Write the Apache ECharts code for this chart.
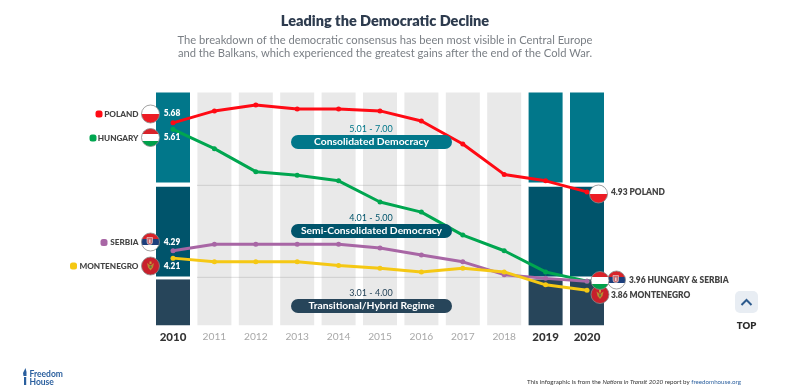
<!DOCTYPE html>
<html><head><meta charset="utf-8">
<style>html,body{margin:0;padding:0;background:#fff}#c{width:800px;height:389px}</style>
<script src="https://cdn.jsdelivr.net/npm/echarts@6/dist/echarts.min.js"></script>
</head><body><div id="c"></div>
<script>
const years = ['2010','2011','2012','2013','2014','2015','2016','2017','2018','2019','2020'];
const boldYears = ['2010','2019','2020'];
const poland = [5.68,5.81,5.875,5.83,5.83,5.81,5.70,5.45,5.12,5.05,4.93];
const hungary = [5.61,5.40,5.15,5.11,5.05,4.82,4.71,4.46,4.29,4.06,3.96];
const serbia = [4.29,4.36,4.36,4.36,4.36,4.32,4.245,4.17,4.03,3.99,3.96];
const montenegro = [4.21,4.17,4.17,4.17,4.13,4.10,4.06,4.10,4.06,3.92,3.86];
// stacked band segments (highlighted years) and plain grey columns
const hybridBand = [3.98,null,null,null,null,null,null,null,null,3.98,3.98];
const gapLow =     [0.03,null,null,null,null,null,null,null,null,0.03,0.03];
const semiBand =   [0.978,null,null,null,null,null,null,null,null,0.978,0.978];
const gapHigh =    [0.043,null,null,null,null,null,null,null,null,0.043,0.043];
const consBand =   [0.98,null,null,null,null,null,null,null,null,0.98,0.98];
const greyCols =   [null,6.01,6.01,6.01,6.01,6.01,6.01,6.01,6.01,null,null];
const bandEdges = [5, 4];

const FONT = 'Lato, "Open Sans", sans-serif';
const C = {pl:'#ff0a14', hu:'#00a650', rs:'#a866a5', me:'#f5c814', teal:'#01778a', semi:'#00546b', navy:'#27455a', ink:'#444'};

function bar(name,data,color){
  return {name,type:'bar',stack:'b',data,barWidth:34,itemStyle:{color},silent:true,z:1};
}
function line(name,data,color,z){
  return {name,type:'line',data,z,symbol:'circle',symbolSize:5,showSymbol:true,
    lineStyle:{color,width:3},itemStyle:{color},silent:true,animation:false};
}
function txt(x,y,text,o){
  return {type:'text',x,y,z:o.z||50,style:Object.assign({text,fill:C.ink,align:'left',verticalAlign:'middle',
    font:'700 8px '+FONT},o.s||{})};
}
function stripes(cols){
  const stops=[];cols.forEach((c,i)=>{stops.push({offset:i/cols.length,color:c},{offset:(i+1)/cols.length,color:c});});
  return {type:'linear',x:0,y:0,x2:0,y2:1,colorStops:stops};
}
function flag(cx,cy,kind){
  const r=9, out=[], z=40+flag.n++;
  const fills={pl:stripes(['#fff','#ed1c24']),hu:stripes(['#d8232a','#fff','#00a04a']),
    rs:stripes(['#d8232a','#1c3f7c','#fff']),me:'#c8202c'};
  out.push({type:'circle',z,shape:{cx,cy,r},style:{fill:fills[kind],stroke:'#8a8a8a',lineWidth:0.8}});
  if(kind==='rs'){
    out.push({type:'rect',z,shape:{x:cx-3.5,y:cy-4.5,width:5.5,height:7,r:[0,0,2.5,2.5]},style:{fill:'#c96a6f',stroke:'#e8dcdc',lineWidth:0.6}});
    out.push({type:'rect',z,shape:{x:cx-1.3,y:cy-2.5,width:1.2,height:3.5},style:{fill:'#f3e5e5'}});
  }
  if(kind==='me'){
    out.push({type:'polygon',z,shape:{points:[[cx-3.5,cy-3],[cx,cy-0.5],[cx+3.5,cy-3],[cx+2.5,cy+1.5],[cx,cy+4.5],[cx-2.5,cy+1.5]]},style:{fill:'#b98a32'}});
    out.push({type:'rect',z,shape:{x:cx-1,y:cy-4.5,width:2,height:2.5},style:{fill:'#c79a3a'}});
    out.push({type:'rect',z,shape:{x:cx-1,y:cy-0.3,width:2,height:2.2},style:{fill:'#5f7a3f'}});
  }
  return out;
}
flag.n=0;
function pill(y,range,label,color){
  return [
    {type:'rect',z:30,shape:{x:291,y:y-7,width:161,height:14,r:7},style:{fill:color}},
    txt(371.5,y,label,{z:31,s:{fill:'#fff',align:'center',font:'700 10.3px '+FONT}}),
    txt(371,y-13,range,{z:31,s:{fill:color,align:'center',font:'400 9px '+FONT}})
  ];
}
function legend(yc,dotX,name,color){
  return [
    {type:'rect',z:30,shape:{x:dotX-3.5,y:yc-3.5,width:7,height:7,r:2.5},style:{fill:color}},
    txt(138.5,yc,name,{s:{align:'right',font:'900 8.2px '+FONT}})
  ];
}
const v2=n=>n.toFixed(2);
const valFont='800 8.4px '+FONT;
const graphics = [
  txt(385,21,'Leading the Democratic Decline',{s:{align:'center',fill:'#2d3b4e',font:'800 14.5px '+FONT}}),
  txt(385,40,'The breakdown of the democratic consensus has been most visible in Central Europe',{s:{align:'center',fill:'#7a7f85',font:'400 11.2px '+FONT}}),
  txt(385,53.5,'and the Balkans, which experienced the greatest gains after the end of the Cold War.',{s:{align:'center',fill:'#7a7f85',font:'400 11.2px '+FONT}}),
  ...pill(142,'5.01 - 7.00','Consolidated Democracy',C.teal),
  ...pill(231,'4.01 - 5.00','Semi-Consolidated Democracy',C.semi),
  ...pill(306,'3.01 - 4.00','Transitional/Hybrid Regime',C.navy),
  ...legend(114,99,'POLAND',C.pl),
  ...legend(138,93,'HUNGARY',C.hu),
  ...legend(242.5,104,'SERBIA',C.rs),
  ...legend(266,73.5,'MONTENEGRO',C.me),
  ...flag(150.5,114,'pl'),...flag(150.5,137.5,'hu'),...flag(150.5,242,'rs'),...flag(150.5,266,'me'),
  txt(172,113.5,v2(poland[0]),{s:{align:'center',fill:'#fff',font:valFont}}),
  txt(172,137,v2(hungary[0]),{s:{align:'center',fill:'#fff',font:valFont}}),
  txt(172,242,v2(serbia[0]),{s:{align:'center',fill:'#fff',font:valFont}}),
  txt(172,266,v2(montenegro[0]),{s:{align:'center',fill:'#fff',font:valFont}}),
  ...flag(598.5,194,'pl'),...flag(600,294.5,'me'),...flag(616.5,280,'rs'),...flag(600,280.5,'hu'),
  txt(611,192,v2(poland[10])+' POLAND',{s:{font:valFont}}),
  txt(629,280,v2(hungary[10])+' HUNGARY & SERBIA',{s:{font:valFont}}),
  txt(611,295,v2(montenegro[10])+' MONTENEGRO',{s:{font:valFont}}),
  {type:'rect',z:30,shape:{x:735,y:291,width:23,height:22,r:5},style:{fill:'#e8edf3'}},
  {type:'polyline',z:31,shape:{points:[[741.5,305],[746.5,300],[751.5,305]]},style:{stroke:'#2d5b8e',lineWidth:2,fill:null}},
  txt(746.5,326,'TOP',{s:{align:'center',fill:'#2b2b2b',font:'800 9.5px '+FONT}}),
  {type:'polygon',z:30,shape:{points:[[25.5,368],[26.5,372],[26.5,376],[23.5,376],[23,373]]},style:{fill:'#2a5f9e'}},
  {type:'rect',z:30,shape:{x:24,y:377,width:2.2,height:8},style:{fill:'#2a5f9e'}},
  txt(29.5,374,'Freedom',{s:{fill:'#2a5f9e',font:'700 8.5px "Liberation Sans Narrow", '+FONT}}),
  txt(29.5,382,'House',{s:{fill:'#2a5f9e',font:'700 8.5px "Liberation Sans Narrow", '+FONT}}),
  {type:'text',x:527,y:382,z:30,style:{verticalAlign:'middle',align:'left',
    text:'{a|This infographic is from the }{i|Nations in Transit 2020}{a| report by }{l|freedomhouse.org}',
    rich:{a:{fill:'#333',font:'400 6.2px '+FONT},i:{fill:'#333',font:'italic 400 6.2px '+FONT},l:{fill:'#2a5f9e',font:'400 6.2px '+FONT}}}}
];
const chart = echarts.init(document.getElementById('c'),null,{renderer:'canvas'});
chart.setOption({
  animation:false,
  backgroundColor:'#fff',
  grid:{left:152.3,width:455.4,top:92.5,height:232.8,containLabel:false},
  xAxis:[
    {type:'category',data:years,axisLine:{show:false},axisTick:{show:false},splitLine:{show:false},
     axisLabel:{margin:6,interval:0,formatter:v=>boldYears.includes(v)?'{b|'+v+'}':'{n|'+v+'}',
       rich:{b:{fontFamily:FONT,fontWeight:900,fontSize:11.5,color:'#333'},n:{fontFamily:FONT,fontWeight:400,fontSize:10.2,color:'#a8a8a8'}}}},
    {type:'value',show:false,min:-0.5,max:10.5,splitLine:{show:false}}
  ],
  yAxis:{type:'value',min:3.48,max:6.01,show:false,splitLine:{show:false}},
  series:[
    bar('Hybrid',hybridBand,C.navy),
    bar('gapLow',gapLow,'#fff'),
    bar('Semi',semiBand,C.semi),
    bar('gapHigh',gapHigh,'#fff'),
    bar('Consolidated',consBand,C.teal),
    bar('Grey',greyCols,'#e9e9e9'),
    ...bandEdges.map((v,i)=>({name:'edge'+i,type:'line',xAxisIndex:1,z:2,symbol:'none',silent:true,
      data:[[0.58,v],[8.41,v]],lineStyle:{color:'rgba(120,120,120,0.2)',width:1.2}})),
    line('Poland',poland,C.pl,5),
    line('Hungary',hungary,C.hu,6),
    line('Serbia',serbia,C.rs,7),
    line('Montenegro',montenegro,C.me,8)
  ],
  graphic:graphics
});
</script></body></html>
